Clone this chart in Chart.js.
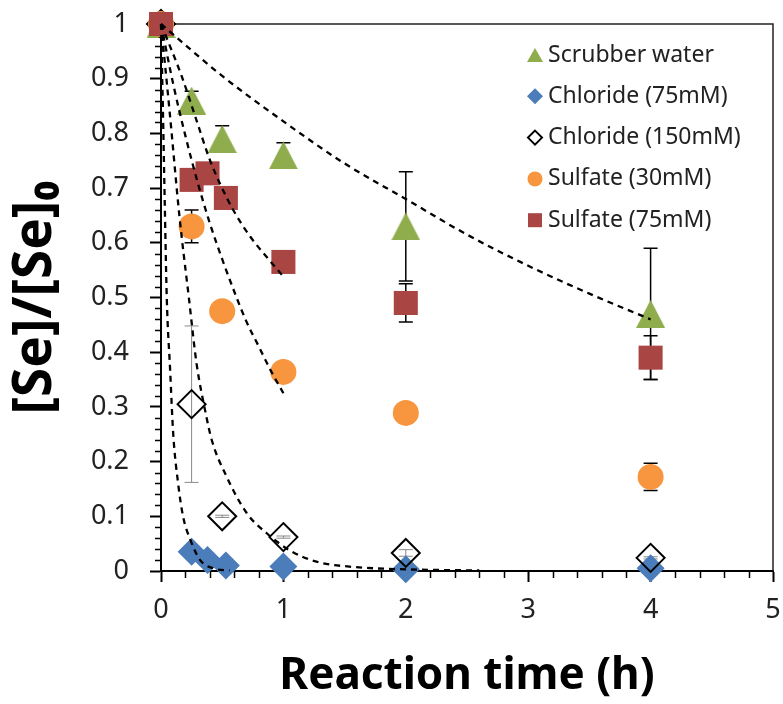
<!DOCTYPE html>
<html>
<head>
<meta charset="utf-8">
<style>
html, body { margin: 0; padding: 0; background: #fff; overflow: hidden; }
/* a little wider than the window: the right edge label overhang is kept off-screen */
#wrap { width: 790px; height: 704px; position: relative; }
</style>
</head>
<body>
<div id="wrap"><canvas id="chart"></canvas></div>
<script src="https://cdn.jsdelivr.net/npm/chart.js"></script>
<script>
// axis ticks
const xTickVals = [0, 1, 2, 3, 4, 5];
const yTickVals = [0, 0.1, 0.2, 0.3, 0.4, 0.5, 0.6, 0.7, 0.8, 0.9, 1];
const yTickLabels = ['0', '0.1', '0.2', '0.3', '0.4', '0.5', '0.6', '0.7', '0.8', '0.9', '1'];

// measured points (time in h, [Se]/[Se]0) and error bars
const scrubberT = [0, 0.25, 0.5, 1, 2, 4];
const scrubberC = [1, 0.86, 0.79, 0.76, 0.63, 0.47];
const scrubberErr = [0, 0.017, 0.024, 0.023, 0.10, 0.12];

const chl75T = [0, 0.25, 0.38, 0.53, 1, 2, 4];
const chl75C = [1, 0.035, 0.02, 0.01, 0.008, 0.003, 0.005];

const chl150T = [0, 0.25, 0.5, 1, 2, 4];
const chl150C = [1, 0.305, 0.10, 0.062, 0.033, 0.024];
const chl150Err = [0, 0.143, 0.002, 0.002, 0.006, 0.002];

const sul30T = [0, 0.25, 0.5, 1, 2, 4];
const sul30C = [1, 0.63, 0.475, 0.364, 0.289, 0.172];
const sul30Err = [0, 0.03, 0, 0, 0, 0.025];

const sul75T = [0, 0.25, 0.38, 0.53, 1, 2, 4];
const sul75C = [1, 0.715, 0.727, 0.682, 0.565, 0.49, 0.39];
const sul75Err = [0, 0, 0, 0, 0, 0.035, 0.04];

// dashed fit curves
const fitScrubT = [0, 0.5, 1, 1.5, 2, 2.5, 3, 3.5, 4];
const fitScrubC = [1, 0.905, 0.822, 0.745, 0.68, 0.615, 0.558, 0.507, 0.46];
const fitSul75T = [0, 0.17, 0.29, 0.39, 0.48, 0.59, 0.73, 0.86, 1];
const fitSul75C = [1, 0.904, 0.824, 0.757, 0.709, 0.66, 0.611, 0.575, 0.538];
const fitSul30T = [0, 0.1, 0.2, 0.3, 0.4, 0.5, 0.6, 0.7, 0.8, 0.9, 1];
const fitSul30C = [1, 0.89, 0.795, 0.71, 0.635, 0.57, 0.51, 0.455, 0.41, 0.365, 0.325];
const fitChl150T = [0, 0.073, 0.15, 0.23, 0.29, 0.36, 0.414, 0.537, 0.70, 0.864, 1.05, 1.27, 1.54, 2.0, 2.6];
const fitChl150C = [1, 0.834, 0.65, 0.495, 0.38, 0.294, 0.24, 0.172, 0.106, 0.069, 0.038, 0.017, 0.008, 0.003, 0.001];
const fitChl75T = [0, 0.015, 0.03, 0.047, 0.074, 0.10, 0.14, 0.18, 0.24, 0.32, 0.425, 0.56];
const fitChl75C = [1, 0.85, 0.68, 0.5, 0.37, 0.25, 0.16, 0.1, 0.057, 0.02, 0.005, 0.001];

const GREEN = '#8FAD4C', BLUE = '#4A7DBA', ORANGE = '#F7963F', RED = '#A94543';

const pts = (t, c) => t.map((x, i) => ({ x: x, y: c[i] }));

function triangleImg(w, h, color) {
  const cv = document.createElement('canvas');
  cv.width = w; cv.height = h;
  const g = cv.getContext('2d');
  g.fillStyle = color;
  g.beginPath();
  g.moveTo(w / 2, 0); g.lineTo(w, h); g.lineTo(0, h);
  g.closePath(); g.fill();
  return cv;
}
const triBig = triangleImg(29, 28, GREEN);

function fitLine(t, c) {
  return {
    type: 'line', data: pts(t, c), borderColor: '#000', borderWidth: 2.3,
    borderDash: [6, 5], pointRadius: 0, fill: false, cubicInterpolationMode: 'monotone',
    order: 0, clip: false
  };
}

const errorSets = [
  { t: scrubberT, c: scrubberC, e: scrubberErr, color: '#000', w: 1.5 },
  { t: chl150T, c: chl150C, e: chl150Err, color: '#888', w: 1 },
  { t: sul30T, c: sul30C, e: sul30Err, color: '#000', w: 1.5 },
  { t: sul75T, c: sul75C, e: sul75Err, color: '#000', w: 1.5 }
];

const errorBars = {
  id: 'errorBars',
  beforeDatasetsDraw(chart) {
    const { ctx, scales: { x, y } } = chart;
    ctx.save();
    errorSets.forEach(s => {
      ctx.strokeStyle = s.color;
      ctx.lineWidth = s.w;
      s.t.forEach((t, i) => {
        if (!s.e[i]) return;
        const px = x.getPixelForValue(t);
        const hi = y.getPixelForValue(s.c[i] + s.e[i]);
        const lo = y.getPixelForValue(s.c[i] - s.e[i]);
        ctx.beginPath();
        ctx.moveTo(px, hi); ctx.lineTo(px, lo);
        ctx.moveTo(px - 7, hi); ctx.lineTo(px + 7, hi);
        ctx.moveTo(px - 7, lo); ctx.lineTo(px + 7, lo);
        ctx.stroke();
      });
    });
    ctx.restore();
  }
};

const frameAndMinor = {
  id: 'frameAndMinor',
  beforeDatasetsDraw(chart) {
    const { ctx, chartArea: a, scales: { x, y } } = chart;
    ctx.save();
    ctx.strokeStyle = '#000';
    ctx.lineWidth = 1.5;
    ctx.beginPath();
    for (let k = 1; k < 25; k++) {
      if (k % 5 === 0) continue;
      const px = Math.round(x.getPixelForValue(k * 0.2)) + 0.5;
      ctx.moveTo(px, a.bottom); ctx.lineTo(px, a.bottom + 7);
    }
    for (let k = 1; k < 50; k++) {
      if (k % 5 === 0) continue;
      const py = Math.round(y.getPixelForValue(k * 0.02)) + 0.5;
      ctx.moveTo(a.left, py); ctx.lineTo(a.left - 6, py);
    }
    ctx.stroke();
    ctx.strokeStyle = '#222';
    ctx.beginPath();
    ctx.moveTo(a.left, a.top); ctx.lineTo(a.right, a.top); ctx.lineTo(a.right, a.bottom);
    ctx.stroke();
    ctx.restore();
  }
};

function drawMarker(ctx, kind, cx, cy) {
  ctx.beginPath();
  if (kind === 'tri') {
    ctx.fillStyle = GREEN;
    ctx.moveTo(cx, cy - 7); ctx.lineTo(cx + 8, cy + 7); ctx.lineTo(cx - 8, cy + 7);
    ctx.closePath(); ctx.fill();
  } else if (kind === 'dia') {
    ctx.fillStyle = BLUE;
    ctx.moveTo(cx, cy - 8); ctx.lineTo(cx + 8, cy); ctx.lineTo(cx, cy + 8); ctx.lineTo(cx - 8, cy);
    ctx.closePath(); ctx.fill();
  } else if (kind === 'open') {
    ctx.strokeStyle = '#000'; ctx.lineWidth = 2;
    ctx.moveTo(cx, cy - 7); ctx.lineTo(cx + 7, cy); ctx.lineTo(cx, cy + 7); ctx.lineTo(cx - 7, cy);
    ctx.closePath(); ctx.stroke();
  } else if (kind === 'circ') {
    ctx.fillStyle = ORANGE;
    ctx.arc(cx, cy, 7.5, 0, Math.PI * 2); ctx.fill();
  } else {
    ctx.fillStyle = RED;
    ctx.fillRect(cx - 7, cy - 7, 14, 14);
  }
}

const legendItems = [
  { kind: 'tri', text: 'Scrubber water' },
  { kind: 'dia', text: 'Chloride (75mM)' },
  { kind: 'open', text: 'Chloride (150mM)' },
  { kind: 'circ', text: 'Sulfate (30mM)' },
  { kind: 'sq', text: 'Sulfate (75mM)' }
];

const insideLegend = {
  id: 'insideLegend',
  afterDraw(chart) {
    const ctx = chart.ctx;
    ctx.save();
    ctx.font = '23px "Noto Sans"';
    ctx.textBaseline = 'middle';
    ctx.textAlign = 'left';
    legendItems.forEach((it, i) => {
      const cy = 55 + i * 41.3;
      drawMarker(ctx, it.kind, 535, cy);
      ctx.fillStyle = '#222';
      ctx.fillText(it.text, 548, cy);
    });
    ctx.restore();
  }
};

// keep the plot box where the reference has it (labels may overhang)
function noOverhang(s) {
  s.paddingTop = 0; s.paddingBottom = 0; s.paddingLeft = 0; s.paddingRight = 0;
}

new Chart(document.getElementById('chart'), {
  type: 'scatter',
  data: {
    datasets: [
      fitLine(fitScrubT, fitScrubC),
      fitLine(fitSul75T, fitSul75C),
      fitLine(fitSul30T, fitSul30C),
      fitLine(fitChl150T, fitChl150C),
      fitLine(fitChl75T, fitChl75C),
      { label: 'Sulfate (75mM)', data: pts(sul75T, sul75C), pointStyle: 'rect', pointRadius: 17,
        backgroundColor: RED, borderColor: RED, borderWidth: 0, order: 1, clip: false },
      { label: 'Sulfate (30mM)', data: pts(sul30T, sul30C), pointStyle: 'circle', pointRadius: 13,
        backgroundColor: ORANGE, borderColor: ORANGE, borderWidth: 0, order: 2, clip: false },
      { label: 'Chloride (150mM)', data: pts(chl150T, chl150C), pointStyle: 'rectRot', pointRadius: 14,
        backgroundColor: 'rgba(0,0,0,0)', borderColor: '#000', borderWidth: 2, order: 3, clip: false },
      { label: 'Chloride (75mM)', data: pts(chl75T, chl75C), pointStyle: 'rectRot', pointRadius: 14,
        backgroundColor: BLUE, borderColor: BLUE, borderWidth: 0, order: 4, clip: false },
      { label: 'Scrubber water', data: pts(scrubberT, scrubberC), pointStyle: triBig, pointRadius: 14,
        backgroundColor: GREEN, borderColor: GREEN, borderWidth: 0, order: 5, clip: false }
    ]
  },
  options: {
    responsive: true,
    maintainAspectRatio: false,
    animation: false,
    events: [],
    layout: { padding: { top: 24, right: 0, left: 0, bottom: 0 } },
    plugins: { legend: { display: false }, tooltip: { enabled: false } },
    scales: {
      x: {
        type: 'linear', min: 0, max: 5,
        afterBuildTicks: s => { s.ticks = xTickVals.map(v => ({ value: v })); },
        afterFit: s => { s.height = 133; noOverhang(s); },
        grid: { drawOnChartArea: false, drawTicks: true, tickLength: 11, tickWidth: 2, tickColor: '#000' },
        border: { display: true, color: '#000', width: 2 },
        ticks: { font: { family: 'Noto Sans', size: 27 }, color: '#222', padding: 12, maxRotation: 0, autoSkip: false },
        title: { display: true, text: 'Reaction time (h)', color: '#000',
          font: { family: 'Noto Sans', size: 44, weight: 'bold' }, padding: { top: 0, bottom: 1 } }
      },
      y: {
        type: 'linear', min: 0, max: 1,
        afterBuildTicks: s => { s.ticks = yTickVals.map(v => ({ value: v })); },
        afterFit: s => { s.width = 161; noOverhang(s); },
        grid: { drawOnChartArea: false, drawTicks: true, tickLength: 11, tickWidth: 2, tickColor: '#000' },
        border: { display: true, color: '#000', width: 2 },
        ticks: { font: { family: 'Noto Sans', size: 27 }, color: '#222', padding: 21,
          callback: (v, i) => yTickLabels[i] },
        title: { display: true, text: '[Se]/[Se]₀', color: '#000',
          font: { family: 'Noto Sans', size: 53, weight: 'bold' }, padding: { top: 4, bottom: 0 } }
      }
    }
  },
  plugins: [frameAndMinor, errorBars, insideLegend]
});
</script>
</body>
</html>
